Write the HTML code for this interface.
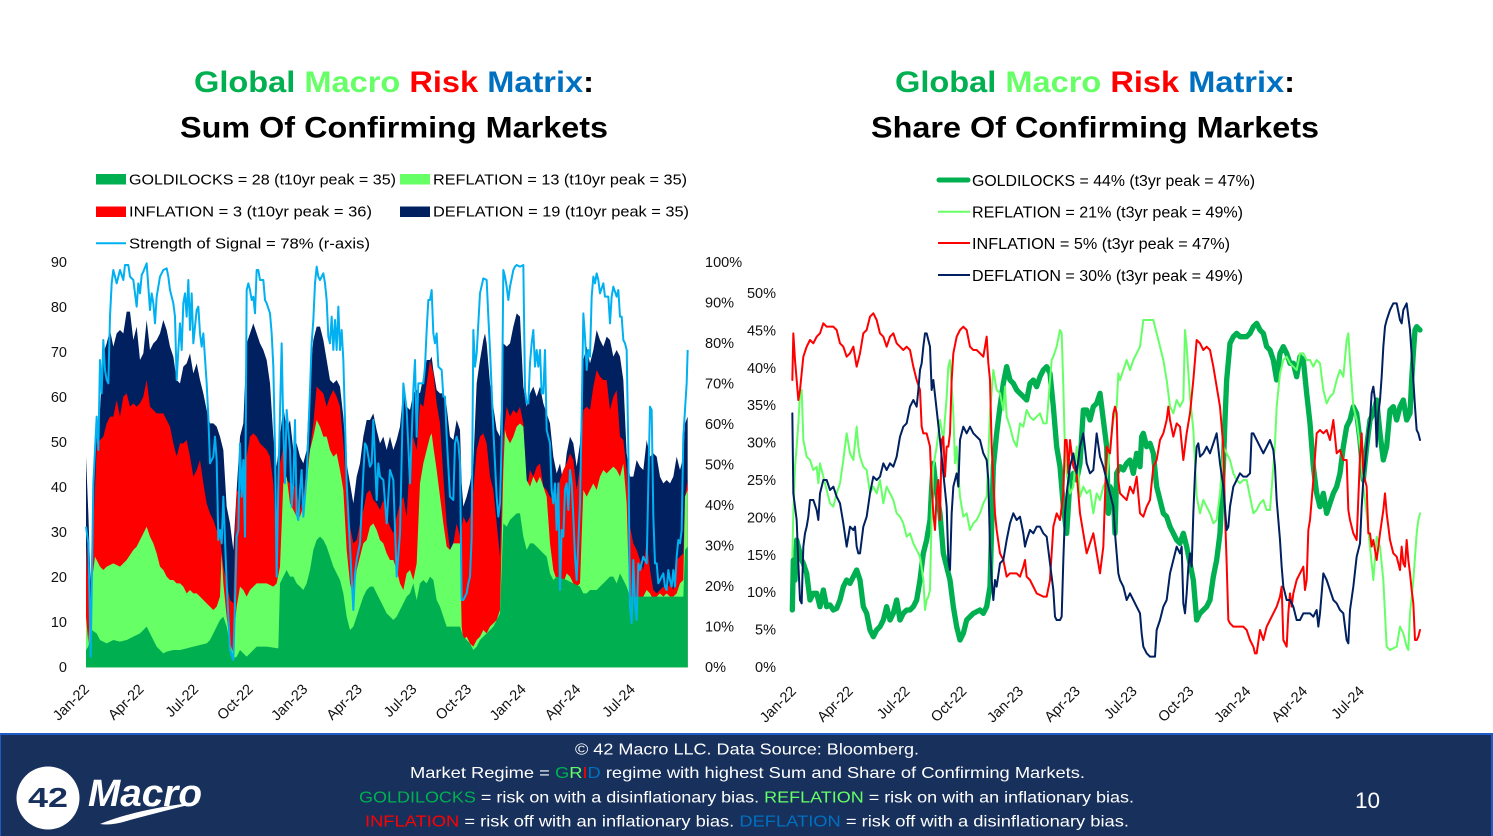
<!DOCTYPE html>
<html><head><meta charset="utf-8"><style>
html,body{margin:0;padding:0;background:#fff;}
body{width:1493px;height:836px;overflow:hidden;}
svg{display:block;}
text{font-family:"Liberation Sans",sans-serif;}
</style></head><body>
<svg width="1493" height="836" viewBox="0 0 1493 836" xmlns="http://www.w3.org/2000/svg">
<rect width="1493" height="836" fill="#fff"/>

<!-- Titles -->
<text x="194" y="92" font-size="30" font-weight="bold" textLength="400" lengthAdjust="spacingAndGlyphs"><tspan fill="#00b050">Global </tspan><tspan fill="#66ff66">Macro </tspan><tspan fill="#ff0000">Risk </tspan><tspan fill="#0070c0">Matrix</tspan><tspan fill="#000">:</tspan></text>
<text x="180" y="137.5" font-size="30" font-weight="bold" fill="#000" textLength="428" lengthAdjust="spacingAndGlyphs">Sum Of Confirming Markets</text>
<text x="895" y="92" font-size="30" font-weight="bold" textLength="400" lengthAdjust="spacingAndGlyphs"><tspan fill="#00b050">Global </tspan><tspan fill="#66ff66">Macro </tspan><tspan fill="#ff0000">Risk </tspan><tspan fill="#0070c0">Matrix</tspan><tspan fill="#000">:</tspan></text>
<text x="871" y="137.5" font-size="30" font-weight="bold" fill="#000" textLength="448" lengthAdjust="spacingAndGlyphs">Share Of Confirming Markets</text>

<!-- Left legend -->
<g font-size="15" fill="#000">
<rect x="96" y="174" width="30" height="10.5" fill="#00b050"/>
<text x="129" y="184.3" textLength="267" lengthAdjust="spacingAndGlyphs">GOLDILOCKS = 28 (t10yr peak = 35)</text>
<rect x="400" y="174" width="30" height="10.5" fill="#66ff66"/>
<text x="433" y="184.3" textLength="254" lengthAdjust="spacingAndGlyphs">REFLATION = 13 (t10yr peak = 35)</text>
<rect x="96" y="206.5" width="30" height="10.5" fill="#ff0000"/>
<text x="129" y="216.7" textLength="243" lengthAdjust="spacingAndGlyphs">INFLATION = 3 (t10yr peak = 36)</text>
<rect x="400" y="206.5" width="30" height="10.5" fill="#002060"/>
<text x="433" y="216.7" textLength="256" lengthAdjust="spacingAndGlyphs">DEFLATION = 19 (t10yr peak = 35)</text>
<line x1="96" y1="243.3" x2="126" y2="243.3" stroke="#00b0f0" stroke-width="2"/>
<text x="129" y="248.5" textLength="241" lengthAdjust="spacingAndGlyphs">Strength of Signal = 78% (r-axis)</text>
</g>

<!-- Right legend -->
<g font-size="15.5" fill="#000">
<line x1="939" y1="180" x2="968" y2="180" stroke="#00b050" stroke-width="5" stroke-linecap="round"/>
<text x="972" y="186" textLength="283" lengthAdjust="spacingAndGlyphs">GOLDILOCKS = 44% (t3yr peak = 47%)</text>
<line x1="938" y1="211.7" x2="970" y2="211.7" stroke="#66ff66" stroke-width="2"/>
<text x="972" y="217.5" textLength="271" lengthAdjust="spacingAndGlyphs">REFLATION = 21% (t3yr peak = 49%)</text>
<line x1="938" y1="243" x2="970" y2="243" stroke="#ff0000" stroke-width="2"/>
<text x="972" y="249" textLength="258" lengthAdjust="spacingAndGlyphs">INFLATION = 5% (t3yr peak = 47%)</text>
<line x1="938" y1="275" x2="970" y2="275" stroke="#002060" stroke-width="2"/>
<text x="972" y="281" textLength="271" lengthAdjust="spacingAndGlyphs">DEFLATION = 30% (t3yr peak = 49%)</text>
</g>

<!-- Left chart axes labels -->
<g font-size="14.5" fill="#111" text-anchor="end">
<text x="67" y="267">90</text>
<text x="67" y="312">80</text>
<text x="67" y="357">70</text>
<text x="67" y="402">60</text>
<text x="67" y="447">50</text>
<text x="67" y="492">40</text>
<text x="67" y="537">30</text>
<text x="67" y="582">20</text>
<text x="67" y="627">10</text>
<text x="67" y="672">0</text>
</g>
<g font-size="14.5" fill="#111">
<text x="705" y="267">100%</text>
<text x="705" y="307.5">90%</text>
<text x="705" y="348">80%</text>
<text x="705" y="388.5">70%</text>
<text x="705" y="429">60%</text>
<text x="705" y="469.5">50%</text>
<text x="705" y="510">40%</text>
<text x="705" y="550.5">30%</text>
<text x="705" y="591">20%</text>
<text x="705" y="631.5">10%</text>
<text x="705" y="672">0%</text>
</g>
<g font-size="14.5" fill="#111" text-anchor="end">
<text transform="translate(90 690) rotate(-45)">Jan-22</text>
<text transform="translate(144.6 690) rotate(-45)">Apr-22</text>
<text transform="translate(199.2 690) rotate(-45)">Jul-22</text>
<text transform="translate(253.8 690) rotate(-45)">Oct-22</text>
<text transform="translate(308.4 690) rotate(-45)">Jan-23</text>
<text transform="translate(363 690) rotate(-45)">Apr-23</text>
<text transform="translate(417.6 690) rotate(-45)">Jul-23</text>
<text transform="translate(472.2 690) rotate(-45)">Oct-23</text>
<text transform="translate(526.8 690) rotate(-45)">Jan-24</text>
<text transform="translate(581.4 690) rotate(-45)">Apr-24</text>
<text transform="translate(636 690) rotate(-45)">Jul-24</text>
</g>

<!-- Left chart data -->
<g transform="translate(0 250) scale(0.333333)">
<polygon fill="#002060" points="258,1252 258,620 265,790 272,1000 280,700 290,560 300,480 310,310 320,280 330,240 340,290 350,250 360,240 370,250 380,185 390,185 400,270 410,230 420,330 430,310 440,210 450,300 460,280 470,270 480,250 490,210 500,240 510,290 520,320 530,390 540,400 550,350 560,340 570,310 580,370 590,340 600,390 610,430 620,480 630,520 640,520 650,530 660,560 670,600 680,770 690,820 700,900 710,720 720,560 730,520 740,280 750,250 760,220 770,250 780,280 790,300 800,330 810,400 820,560 830,650 840,560 850,470 860,540 870,510 880,600 890,580 900,620 910,640 920,600 930,380 940,270 950,230 960,230 970,270 980,330 990,390 1000,400 1010,390 1020,410 1030,500 1040,640 1050,700 1060,760 1070,680 1080,640 1090,560 1100,510 1110,510 1120,490 1130,540 1140,580 1150,560 1160,600 1170,560 1180,600 1190,570 1200,530 1210,420 1220,470 1230,480 1240,430 1250,420 1260,430 1270,380 1280,330 1290,330 1295,320 1300,360 1310,420 1320,430 1330,430 1340,470 1350,560 1360,570 1370,510 1380,540 1385,700 1390,770 1400,740 1410,700 1420,640 1430,400 1440,330 1450,270 1455,250 1460,280 1470,400 1480,470 1490,540 1500,560 1510,280 1520,290 1530,280 1540,230 1550,190 1560,200 1570,410 1580,470 1590,430 1600,410 1610,440 1620,410 1630,460 1640,490 1650,520 1660,620 1670,670 1680,640 1690,700 1700,610 1710,560 1720,580 1730,650 1740,580 1750,330 1760,290 1770,340 1780,300 1790,240 1800,270 1810,290 1820,260 1830,270 1840,320 1850,300 1860,320 1870,390 1880,610 1890,680 1900,680 1910,630 1920,650 1930,660 1940,570 1950,620 1960,610 1970,620 1980,680 1990,700 2000,690 2010,700 2020,680 2030,620 2040,660 2050,620 2055,520 2063,500 2063,1252"/>
<polygon fill="#ff0000" points="258,1252 258,880 265,1000 272,1100 280,830 290,590 300,570 310,560 320,520 330,500 340,500 350,450 360,500 370,440 380,430 390,470 400,460 410,470 420,460 430,440 440,390 450,470 460,480 470,490 480,490 490,490 500,510 510,530 520,580 530,620 540,580 550,580 560,570 570,620 580,680 590,660 600,630 610,700 620,760 630,790 640,810 650,840 660,860 670,950 680,1000 690,1050 700,1060 705,860 710,720 720,730 730,690 740,620 750,560 760,550 770,560 780,580 790,590 800,600 810,620 820,700 830,900 840,640 850,590 860,690 870,700 880,700 890,720 900,780 910,740 920,650 930,600 940,520 950,410 960,420 970,430 980,470 990,440 1000,420 1010,440 1020,470 1030,580 1040,720 1050,830 1060,880 1070,870 1080,820 1090,780 1100,730 1110,720 1120,750 1130,760 1140,780 1150,750 1160,800 1170,830 1180,850 1190,800 1200,760 1210,740 1220,800 1230,620 1240,560 1250,600 1260,460 1270,470 1280,400 1290,330 1300,370 1310,460 1320,520 1330,680 1340,820 1350,900 1360,880 1370,820 1380,860 1390,800 1400,820 1410,800 1420,720 1430,600 1440,560 1450,550 1460,580 1470,680 1480,720 1490,820 1500,920 1510,560 1520,470 1530,500 1540,480 1550,490 1560,470 1570,520 1580,720 1590,660 1600,680 1610,650 1620,640 1630,710 1640,720 1650,740 1660,750 1670,730 1680,690 1690,660 1700,640 1710,610 1720,630 1730,720 1740,650 1750,480 1760,470 1770,480 1780,410 1790,360 1800,380 1810,390 1820,390 1830,480 1840,440 1850,420 1860,560 1870,570 1880,660 1890,830 1900,880 1910,900 1920,930 1930,960 1940,870 1950,960 1960,1020 1970,1030 1980,1020 1990,1010 2000,1020 2010,1000 2020,1020 2030,930 2040,920 2050,910 2055,740 2063,690 2063,1252"/>
<polygon fill="#66ff66" points="258,1252 258,1100 265,1180 275,1000 285,920 300,950 310,960 320,950 340,940 360,950 380,930 400,900 410,890 420,870 430,850 440,830 450,860 460,880 470,910 480,950 490,960 500,980 510,990 520,990 530,1000 540,1000 550,1010 560,1030 570,1020 580,1030 590,1030 600,1040 610,1050 620,1060 630,1070 640,1080 650,1070 660,1040 665,910 670,1000 680,1100 690,1180 700,1210 705,1120 710,1070 720,1010 730,1020 740,1040 750,1020 760,1010 770,1000 800,1000 820,1010 830,1000 840,950 850,700 860,680 870,760 880,780 890,800 900,800 910,770 920,700 930,600 940,560 950,510 960,530 970,560 980,560 990,600 1000,620 1010,610 1020,660 1030,720 1040,900 1050,1000 1060,1040 1070,960 1080,920 1090,880 1100,870 1110,830 1120,820 1130,840 1140,870 1150,880 1160,910 1170,930 1180,930 1190,960 1200,1000 1210,1020 1220,970 1230,960 1240,990 1250,940 1260,700 1270,640 1280,600 1290,560 1295,550 1300,590 1310,660 1320,740 1330,820 1340,890 1350,900 1360,880 1380,880 1385,1130 1390,1170 1400,1160 1410,1180 1420,1190 1430,1170 1440,1160 1450,1140 1460,1150 1470,1130 1480,1120 1490,1110 1500,1080 1510,660 1515,540 1520,560 1530,580 1540,560 1550,530 1560,520 1570,530 1580,690 1590,710 1600,680 1610,700 1620,680 1630,710 1640,740 1650,880 1660,960 1670,990 1680,1000 1690,1000 1700,970 1710,980 1720,1000 1730,1010 1740,1000 1750,720 1760,740 1770,720 1780,700 1790,720 1800,680 1810,660 1820,670 1830,660 1840,650 1850,660 1860,680 1870,640 1880,760 1890,1110 1900,1100 1910,1090 1920,1060 1930,1040 1940,1020 1950,1030 1960,1050 1970,1040 1980,1030 1990,1040 2000,1030 2010,1040 2020,1040 2030,1030 2040,1000 2050,990 2055,740 2063,720 2063,1252"/>
<polygon fill="#00b050" points="258,1252 258,1200 265,1190 275,1140 290,1150 300,1170 320,1180 340,1170 360,1175 380,1170 400,1160 420,1150 440,1130 450,1150 460,1170 470,1190 480,1200 490,1210 500,1205 520,1200 540,1200 560,1195 580,1190 600,1185 620,1180 630,1170 640,1150 650,1130 660,1110 670,1100 680,1130 690,1180 700,1225 710,1220 720,1200 730,1210 740,1220 750,1210 760,1200 770,1190 800,1190 835,1195 840,1000 850,980 860,960 870,980 880,980 890,1000 900,1010 910,1020 920,1000 930,960 940,900 950,870 960,860 970,870 980,890 990,920 1000,950 1010,970 1020,990 1030,1030 1040,1100 1050,1140 1060,1130 1070,1100 1080,1070 1090,1040 1100,1020 1110,1010 1120,1010 1130,1030 1140,1050 1150,1070 1160,1090 1170,1100 1180,1110 1190,1100 1200,1080 1210,1060 1220,1040 1230,1030 1240,1000 1250,1050 1260,1000 1270,990 1280,1000 1290,980 1300,990 1310,1050 1320,1070 1330,1100 1340,1130 1380,1130 1390,1160 1400,1170 1410,1180 1420,1200 1430,1190 1440,1170 1450,1160 1460,1150 1470,1140 1480,1130 1490,1110 1500,1090 1510,820 1520,830 1530,810 1540,800 1550,790 1560,790 1570,860 1580,900 1590,880 1600,880 1610,890 1620,900 1630,910 1640,920 1650,970 1660,990 1670,980 1700,990 1720,1000 1740,1010 1750,1030 1760,1030 1770,1020 1790,1020 1800,1010 1810,1000 1820,990 1830,980 1840,980 1850,1000 1860,970 1870,990 1880,1010 1890,1040 2050,1040 2055,900 2063,890 2063,1252"/>
<polyline fill="none" stroke="#00b0f0" stroke-width="6" stroke-linejoin="round" points="258,830 265,880 272,1220 280,700 290,500 295,600 300,330 305,430 310,270 315,360 320,390 325,400 330,200 335,100 340,60 345,80 350,100 360,60 370,90 375,45 385,45 390,80 400,90 410,170 415,100 420,130 425,75 430,65 440,40 445,110 450,180 455,130 460,160 465,220 470,140 480,80 490,60 500,55 505,80 510,120 520,160 525,200 530,390 535,300 540,220 545,300 550,160 555,130 560,200 565,90 570,240 575,130 580,280 590,180 595,170 600,250 605,290 610,250 620,400 625,500 630,640 640,620 645,560 650,630 655,870 660,840 665,880 670,740 680,1000 690,1200 700,1230 705,1060 710,860 715,840 720,580 725,740 730,630 735,860 740,120 745,100 750,120 755,150 760,140 765,190 770,60 775,60 780,90 790,90 795,150 800,160 810,190 815,250 820,350 825,600 830,980 835,700 845,280 850,540 855,700 860,480 870,600 875,770 880,700 885,510 890,790 895,810 900,720 905,660 910,800 920,680 930,420 935,280 940,210 945,100 950,50 955,80 960,90 965,80 970,70 975,100 980,150 985,260 990,280 995,200 1000,300 1005,210 1010,300 1015,170 1020,300 1025,240 1030,330 1040,700 1050,890 1060,1080 1065,970 1070,930 1080,880 1090,670 1095,580 1100,590 1110,650 1115,640 1120,510 1130,750 1135,640 1140,680 1150,690 1160,820 1170,660 1180,690 1190,980 1200,850 1210,400 1220,480 1230,700 1240,420 1245,330 1250,560 1255,400 1270,400 1275,350 1280,240 1285,150 1290,150 1295,120 1300,250 1305,280 1310,250 1315,350 1325,360 1330,440 1335,440 1340,560 1350,740 1360,750 1365,580 1370,560 1375,580 1380,640 1385,1050 1390,1050 1400,1030 1405,1000 1410,980 1415,860 1420,240 1425,350 1430,310 1440,130 1450,85 1460,90 1465,200 1470,300 1480,540 1490,740 1495,800 1500,760 1505,580 1510,60 1515,80 1520,110 1525,150 1530,110 1540,60 1545,50 1550,45 1560,50 1570,45 1575,420 1580,460 1585,460 1590,340 1595,280 1600,240 1605,350 1610,300 1615,350 1620,300 1625,430 1630,430 1635,300 1640,540 1650,580 1655,720 1660,760 1665,700 1670,840 1675,700 1680,1020 1685,840 1690,860 1695,720 1700,700 1705,780 1710,660 1715,700 1720,800 1725,920 1730,990 1740,760 1745,500 1750,190 1755,260 1760,360 1765,300 1770,320 1775,140 1780,80 1785,100 1790,70 1795,90 1800,130 1810,100 1815,140 1825,140 1830,220 1835,140 1840,110 1850,140 1855,120 1860,200 1865,200 1870,270 1875,280 1880,300 1885,600 1890,1070 1895,1120 1900,930 1905,1060 1910,1110 1915,940 1920,960 1930,920 1940,940 1945,700 1950,470 1955,480 1960,800 1965,940 1970,940 1975,1000 1980,990 1990,970 1995,1010 2000,1020 2005,960 2010,990 2015,1010 2020,960 2025,1010 2030,920 2035,870 2040,880 2045,840 2050,560 2055,480 2060,400 2063,300"/>
</g>

<!-- Right chart axes labels -->
<g font-size="14.5" fill="#111" text-anchor="end">
<text x="776" y="298">50%</text>
<text x="776" y="335.4">45%</text>
<text x="776" y="372.8">40%</text>
<text x="776" y="410.2">35%</text>
<text x="776" y="447.6">30%</text>
<text x="776" y="485">25%</text>
<text x="776" y="522.4">20%</text>
<text x="776" y="559.8">15%</text>
<text x="776" y="597.2">10%</text>
<text x="776" y="634.6">5%</text>
<text x="776" y="672">0%</text>
</g>
<g font-size="14.5" fill="#111" text-anchor="end">
<text transform="translate(797 692) rotate(-45)">Jan-22</text>
<text transform="translate(853.8 692) rotate(-45)">Apr-22</text>
<text transform="translate(910.6 692) rotate(-45)">Jul-22</text>
<text transform="translate(967.4 692) rotate(-45)">Oct-22</text>
<text transform="translate(1024.2 692) rotate(-45)">Jan-23</text>
<text transform="translate(1081 692) rotate(-45)">Apr-23</text>
<text transform="translate(1137.8 692) rotate(-45)">Jul-23</text>
<text transform="translate(1194.6 692) rotate(-45)">Oct-23</text>
<text transform="translate(1251.4 692) rotate(-45)">Jan-24</text>
<text transform="translate(1308.2 692) rotate(-45)">Apr-24</text>
<text transform="translate(1365 692) rotate(-45)">Jul-24</text>
</g>

<!-- Right chart data -->
<g transform="translate(740 280) scale(0.333333)" fill="none" stroke-linejoin="round" stroke-linecap="round">
<polyline stroke="#00b050" stroke-width="16" points="157,990 160,840 165,900 170,780 175,800 180,820 185,840 190,850 200,880 210,960 220,940 230,940 240,980 250,930 260,980 270,975 280,990 290,985 300,960 310,920 320,900 330,910 340,890 350,870 360,900 370,980 380,1000 390,1050 400,1070 410,1050 420,1040 430,1020 440,980 450,1020 460,1000 470,960 480,1020 490,1000 500,990 510,990 520,980 530,960 540,900 550,820 560,780 570,720 575,620 580,550 590,640 600,700 610,820 620,860 630,900 640,980 650,1040 660,1080 670,1060 680,1020 690,1010 700,1000 720,990 730,1000 740,980 750,920 760,560 770,460 780,380 790,310 800,260 810,300 820,310 830,330 840,340 850,350 860,360 870,310 880,300 890,320 900,290 910,270 920,260 930,280 940,380 950,500 960,560 970,680 980,760 990,600 1000,580 1010,600 1020,550 1030,390 1040,390 1050,420 1060,380 1070,370 1080,340 1090,420 1100,500 1105,700 1110,620 1120,640 1125,760 1130,580 1140,560 1150,570 1160,550 1170,540 1180,580 1190,520 1200,560 1205,470 1210,460 1220,500 1230,490 1240,520 1250,620 1260,660 1270,700 1280,710 1290,740 1300,760 1310,780 1320,790 1330,760 1340,800 1350,850 1360,900 1370,1020 1380,1000 1390,990 1400,980 1410,960 1420,890 1430,840 1440,760 1450,560 1455,420 1460,300 1470,190 1480,170 1490,160 1500,170 1520,170 1530,160 1540,140 1550,130 1560,150 1570,160 1580,200 1590,210 1600,240 1610,300 1620,220 1630,200 1640,220 1650,250 1660,250 1670,290 1680,230 1690,240 1700,340 1710,430 1720,560 1730,640 1740,680 1750,640 1760,700 1770,670 1780,640 1790,620 1800,580 1810,500 1820,440 1830,420 1840,380 1850,400 1860,480 1870,600 1880,500 1890,420 1900,400 1910,360 1920,460 1930,540 1940,500 1950,390 1960,380 1970,420 1980,380 1990,360 2000,420 2010,400 2015,300 2020,220 2025,150 2030,140 2040,150"/>
<polyline stroke="#66ff66" stroke-width="6" points="157,830 160,700 165,560 170,500 175,430 180,340 185,330 190,480 200,530 210,540 220,570 230,560 235,610 240,550 250,590 260,630 270,670 280,680 290,640 300,610 310,540 320,460 330,520 340,540 350,440 355,500 360,530 370,560 380,570 390,640 400,620 410,640 420,600 430,670 440,620 450,640 460,660 470,700 480,710 490,730 500,770 510,760 520,790 530,810 540,830 550,900 555,990 560,960 565,950 570,930 575,700 580,560 590,500 600,420 610,480 620,350 625,260 630,240 640,400 645,550 650,500 655,580 660,650 670,710 680,700 690,750 700,730 710,720 720,700 730,670 740,650 745,530 750,400 760,270 770,330 780,340 790,390 795,320 800,410 810,440 820,480 830,500 840,430 850,440 860,390 870,410 880,420 890,410 900,400 910,430 920,430 930,300 935,240 940,230 950,200 960,150 965,160 970,320 975,520 980,580 990,640 1000,620 1010,500 1020,650 1030,620 1040,640 1050,630 1060,700 1070,640 1080,660 1090,620 1100,600 1110,500 1120,420 1130,380 1135,280 1140,300 1150,270 1160,240 1170,270 1180,240 1190,220 1200,200 1210,120 1240,120 1250,160 1260,200 1270,240 1280,300 1290,380 1300,400 1310,360 1320,380 1330,360 1335,150 1340,200 1350,350 1360,450 1370,650 1380,700 1390,660 1400,680 1410,700 1420,730 1430,720 1440,640 1445,580 1450,500 1460,520 1470,540 1480,580 1490,600 1500,610 1510,600 1520,600 1530,650 1540,700 1550,690 1560,670 1570,660 1580,690 1590,690 1600,560 1605,490 1610,380 1620,280 1630,240 1640,230 1650,250 1660,260 1670,270 1680,220 1690,220 1700,240 1710,240 1720,260 1730,240 1740,250 1750,330 1760,370 1770,350 1780,340 1790,300 1800,270 1810,290 1820,180 1825,160 1830,240 1840,380 1850,420 1860,500 1870,620 1880,700 1890,800 1900,900 1910,770 1920,800 1930,900 1940,1100 1950,1110 1970,1100 1980,1040 1990,1060 2000,1100 2005,1110 2010,1000 2020,900 2030,760 2035,720 2040,700"/>
<polyline stroke="#ff0000" stroke-width="6" points="157,300 160,160 165,240 170,300 175,360 180,330 185,280 190,230 200,200 210,180 220,190 230,170 240,160 250,130 260,140 280,140 290,150 300,190 310,200 320,230 330,220 340,200 350,260 360,220 370,160 380,150 390,110 400,100 410,120 420,160 430,170 440,200 450,170 460,160 470,190 480,200 490,210 500,200 510,210 520,260 530,300 540,330 545,440 550,460 560,460 570,500 575,620 580,700 585,750 590,640 595,600 600,720 605,480 610,470 615,590 620,500 625,500 630,460 635,300 640,220 650,170 660,150 670,140 680,150 690,200 700,210 710,210 720,220 730,230 740,170 745,250 750,300 755,500 760,600 765,700 770,750 780,820 790,840 800,890 810,880 830,880 840,890 850,860 855,840 860,890 870,900 880,920 890,940 910,950 920,950 930,900 940,740 950,700 960,720 970,640 975,480 980,480 985,580 990,480 1000,560 1010,580 1020,700 1030,760 1040,820 1050,790 1060,760 1070,820 1080,880 1090,800 1100,500 1110,520 1120,400 1125,380 1130,400 1135,600 1140,640 1150,650 1160,660 1170,620 1180,640 1190,590 1200,700 1210,710 1220,680 1230,660 1240,560 1250,540 1260,480 1270,460 1280,420 1285,380 1290,420 1300,470 1310,430 1320,440 1330,540 1340,460 1350,400 1360,300 1370,180 1380,190 1390,210 1400,200 1410,210 1420,260 1430,320 1440,380 1450,500 1455,700 1460,850 1465,1020 1470,1030 1480,1040 1510,1040 1520,1050 1530,1080 1540,1100 1545,1120 1550,1120 1560,1050 1570,1080 1580,1040 1590,1020 1600,1000 1610,980 1620,950 1625,920 1630,1080 1640,1100 1645,1000 1650,940 1655,980 1660,940 1670,900 1680,880 1690,860 1695,930 1700,900 1705,750 1710,720 1720,600 1730,460 1740,450 1750,460 1760,450 1770,480 1780,420 1785,470 1790,520 1800,510 1810,540 1820,540 1825,690 1830,720 1840,760 1850,780 1860,530 1865,460 1870,580 1880,620 1885,760 1890,760 1895,800 1900,780 1910,840 1920,760 1930,690 1935,640 1940,700 1950,780 1960,820 1970,830 1980,870 1985,800 1990,850 1995,860 2000,780 2005,840 2010,880 2015,930 2020,970 2025,1080 2030,1080 2035,1070 2040,1050"/>
<polyline stroke="#002060" stroke-width="6" points="157,400 160,640 165,680 170,720 175,850 180,960 185,970 190,800 195,760 200,740 205,710 210,660 220,660 230,690 235,720 240,640 250,600 260,600 270,630 280,620 290,650 300,670 310,730 320,800 330,740 340,750 345,740 350,800 355,820 360,820 370,740 380,710 390,640 400,590 410,600 420,590 430,550 440,570 450,550 460,560 470,530 480,470 490,440 500,430 510,380 520,360 530,380 535,330 540,270 545,250 550,200 555,160 560,160 570,200 575,330 580,300 590,390 600,480 610,580 620,680 625,840 630,870 635,700 640,620 645,600 650,580 655,620 660,480 670,440 680,460 690,440 700,460 710,470 720,480 730,520 740,540 745,600 750,800 755,900 760,960 765,900 770,920 780,850 790,840 800,780 810,730 820,700 830,720 840,710 850,760 855,800 860,780 870,750 880,760 890,740 900,740 910,760 920,770 930,850 940,930 945,1010 950,1020 960,1020 965,1010 970,840 975,700 980,640 990,560 1000,520 1010,580 1020,500 1030,460 1040,550 1050,580 1060,570 1070,460 1080,530 1090,560 1100,600 1110,640 1120,680 1125,760 1130,820 1135,880 1140,900 1150,920 1160,960 1170,940 1180,960 1190,980 1200,1000 1205,1060 1210,1100 1220,1120 1230,1130 1245,1130 1250,1050 1260,1020 1270,980 1280,960 1290,880 1300,840 1310,800 1320,820 1325,800 1330,970 1335,1000 1340,940 1345,860 1350,820 1355,860 1360,700 1365,580 1370,500 1375,490 1380,530 1390,520 1400,500 1410,520 1420,490 1430,460 1440,550 1450,620 1460,750 1465,740 1470,680 1480,620 1490,600 1500,580 1510,590 1520,590 1530,580 1535,460 1540,460 1550,480 1560,500 1570,520 1580,500 1590,480 1600,510 1605,560 1610,660 1620,780 1625,860 1630,920 1640,960 1650,960 1660,980 1670,1020 1680,1020 1690,1000 1710,1000 1720,1010 1730,990 1735,1040 1740,1000 1750,880 1760,900 1770,930 1780,960 1790,970 1800,990 1810,1000 1820,1080 1825,1090 1830,990 1840,920 1850,830 1860,790 1865,680 1870,600 1880,500 1885,450 1890,420 1895,340 1900,320 1905,360 1910,500 1915,400 1920,360 1925,290 1930,200 1935,140 1940,120 1950,90 1960,70 1970,70 1980,120 1985,130 1990,90 2000,70 2005,110 2010,150 2020,300 2025,380 2030,450 2035,460 2040,480"/>
</g>

<!-- Footer -->
<rect x="0" y="733" width="1493" height="103" fill="#1f5bc6"/>
<rect x="1" y="735" width="1490" height="101" fill="#18305c"/>
<circle cx="48" cy="798" r="31.5" fill="#fff"/>
<text x="48" y="807" font-size="28" font-weight="bold" fill="#18305c" text-anchor="middle" textLength="40" lengthAdjust="spacingAndGlyphs">42</text>
<text x="88" y="806" font-family="Liberation Serif" font-style="italic" font-weight="bold" font-size="38" fill="#fff" textLength="114" lengthAdjust="spacingAndGlyphs">Macro</text>
<path d="M100,824 Q140,808 200,802 Q160,812 130,820 Q112,826 100,824 Z" fill="#fff"/>
<g font-size="16" fill="#fff">
<text x="575" y="754.5" textLength="344" lengthAdjust="spacingAndGlyphs">© 42 Macro LLC. Data Source: Bloomberg.</text>
<text x="410" y="778" textLength="675" lengthAdjust="spacingAndGlyphs">Market Regime = <tspan fill="#00b050">G</tspan><tspan fill="#66ff66">R</tspan><tspan fill="#ff0000">I</tspan><tspan fill="#0070c0">D</tspan> regime with highest Sum and Share of Confirming Markets.</text>
<text x="359" y="802.3" textLength="775" lengthAdjust="spacingAndGlyphs"><tspan fill="#00b050">GOLDILOCKS</tspan> = risk on with a disinflationary bias. <tspan fill="#66ff66">REFLATION</tspan> = risk on with an inflationary bias.</text>
<text x="365" y="826.3" textLength="764" lengthAdjust="spacingAndGlyphs"><tspan fill="#ff0000">INFLATION</tspan> = risk off with an inflationary bias. <tspan fill="#0070c0">DEFLATION</tspan> = risk off with a disinflationary bias.</text>
</g>
<text x="1355" y="808" font-size="22.5" fill="#fff">10</text>
</svg>
</body></html>
